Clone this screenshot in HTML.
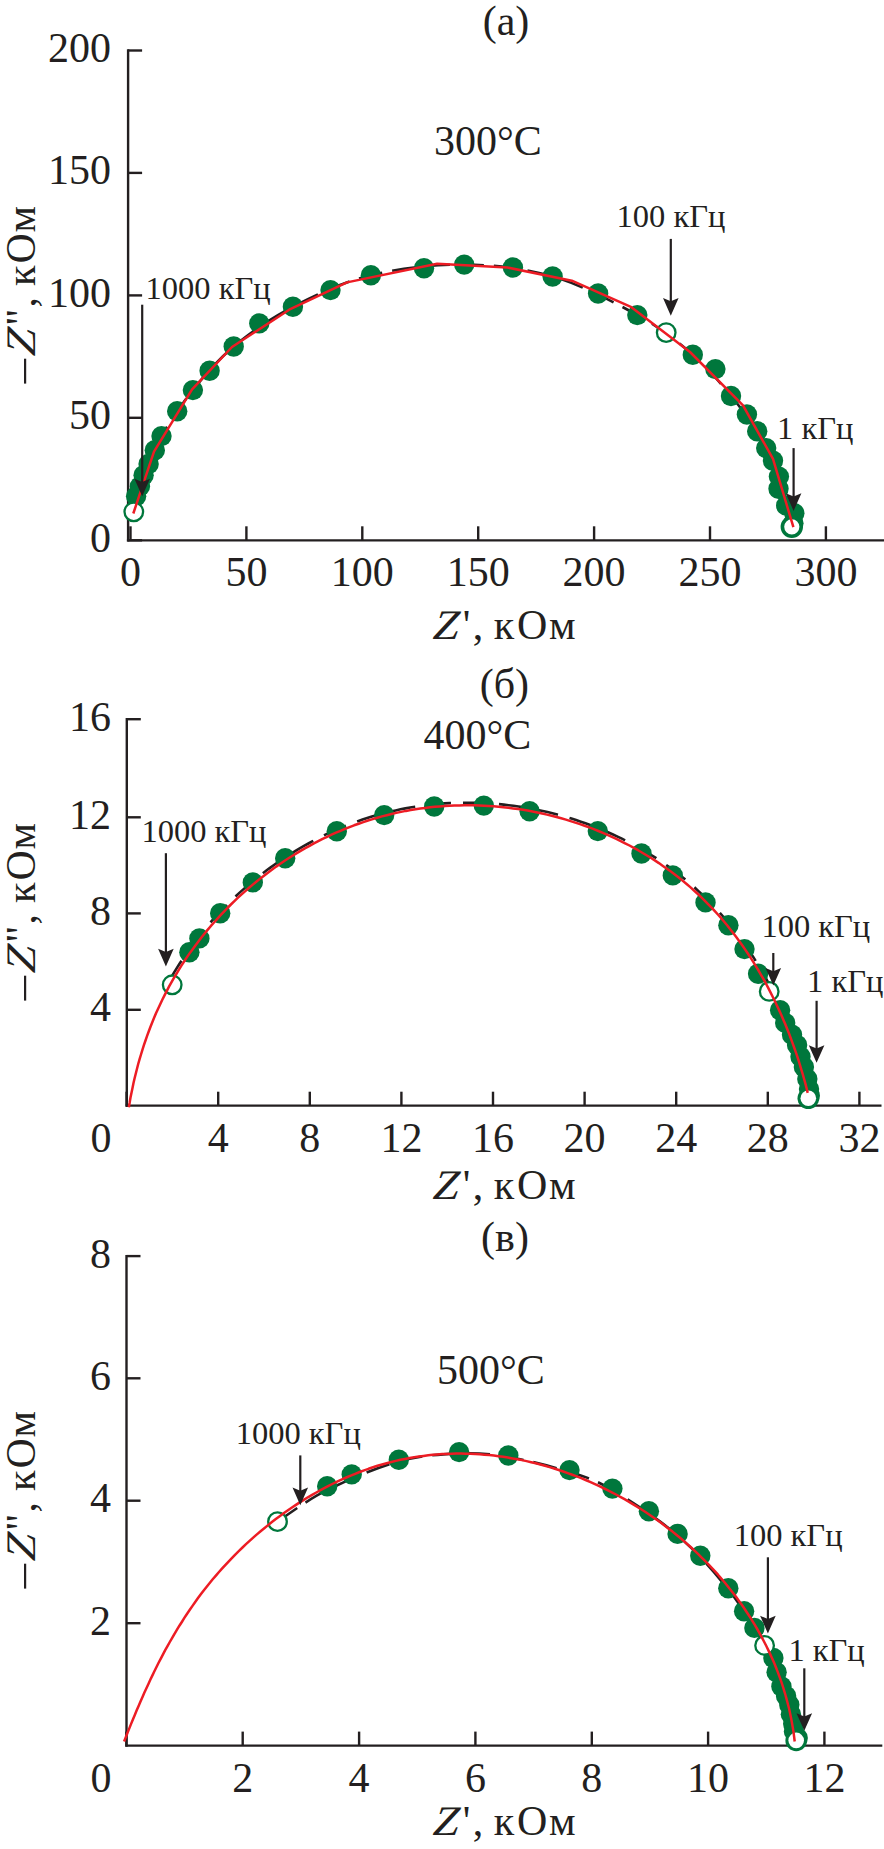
<!DOCTYPE html>
<html><head><meta charset="utf-8"><style>
html,body{margin:0;padding:0;background:#fff;overflow:hidden;width:884px;height:1849px;}
svg{display:block;}
text{font-family:"Liberation Serif", serif;fill:#231f20;}
</style></head><body>
<svg width="884" height="1849" viewBox="0 0 884 1849">
<rect width="884" height="1849" fill="#fff"/>
<line x1="128.1" y1="49.3" x2="128.1" y2="541.5" stroke="#231f20" stroke-width="2.4"/>
<line x1="128.1" y1="50.5" x2="142.1" y2="50.5" stroke="#231f20" stroke-width="2.4"/>
<line x1="128.1" y1="172.9" x2="142.1" y2="172.9" stroke="#231f20" stroke-width="2.4"/>
<line x1="128.1" y1="295.4" x2="142.1" y2="295.4" stroke="#231f20" stroke-width="2.4"/>
<line x1="128.1" y1="417.8" x2="142.1" y2="417.8" stroke="#231f20" stroke-width="2.4"/>
<line x1="128.1" y1="540.3" x2="142.1" y2="540.3" stroke="#231f20" stroke-width="2.4"/>
<line x1="126.9" y1="540.3" x2="884.0" y2="540.3" stroke="#231f20" stroke-width="2.2"/>
<line x1="130.5" y1="540.3" x2="130.5" y2="526.3" stroke="#231f20" stroke-width="2.4"/>
<line x1="246.4" y1="540.3" x2="246.4" y2="526.3" stroke="#231f20" stroke-width="2.4"/>
<line x1="362.3" y1="540.3" x2="362.3" y2="526.3" stroke="#231f20" stroke-width="2.4"/>
<line x1="478.2" y1="540.3" x2="478.2" y2="526.3" stroke="#231f20" stroke-width="2.4"/>
<line x1="594.1" y1="540.3" x2="594.1" y2="526.3" stroke="#231f20" stroke-width="2.4"/>
<line x1="710.0" y1="540.3" x2="710.0" y2="526.3" stroke="#231f20" stroke-width="2.4"/>
<line x1="825.9" y1="540.3" x2="825.9" y2="526.3" stroke="#231f20" stroke-width="2.4"/>
<text x="111.0" y="61.8" font-size="42" text-anchor="end" >200</text>
<text x="111.0" y="184.2" font-size="42" text-anchor="end" >150</text>
<text x="111.0" y="306.7" font-size="42" text-anchor="end" >100</text>
<text x="111.0" y="429.1" font-size="42" text-anchor="end" >50</text>
<text x="111.0" y="551.6" font-size="42" text-anchor="end" >0</text>
<text x="130.5" y="586.0" font-size="42" text-anchor="middle" >0</text>
<text x="246.4" y="586.0" font-size="42" text-anchor="middle" >50</text>
<text x="362.3" y="586.0" font-size="42" text-anchor="middle" >100</text>
<text x="478.2" y="586.0" font-size="42" text-anchor="middle" >150</text>
<text x="594.1" y="586.0" font-size="42" text-anchor="middle" >200</text>
<text x="710.0" y="586.0" font-size="42" text-anchor="middle" >250</text>
<text x="825.9" y="586.0" font-size="42" text-anchor="middle" >300</text>
<text x="506.0" y="35.0" font-size="42" text-anchor="middle" >(а)</text>
<text x="434.0" y="155.0" font-size="42" text-anchor="start" >300°C</text>
<rect x="24" y="358.7" width="2.2" height="24.9" fill="#231f20"/>
<text transform="translate(34.8,356.5) rotate(-90) skewX(-7) scale(1.15,1)" font-size="42" font-style="italic">Z</text>
<text transform="translate(34.8,325.7) rotate(-90)" font-size="42" font-style="normal">"</text>
<text transform="translate(34.8,307.4) rotate(-90)" font-size="42" font-style="normal">,</text>
<text transform="translate(34.8,286.0) rotate(-90)" font-size="42" font-style="normal">к</text>
<text transform="translate(34.8,263.4) rotate(-90)" font-size="42" font-style="normal">О</text>
<text transform="translate(34.8,232.5) rotate(-90)" font-size="42" font-style="normal">м</text>
<text transform="translate(432.3,638.5) skewX(-6) scale(1.1,1)" font-size="42" font-style="italic">Z</text>
<text x="462.8" y="638.5" font-size="42" font-style="normal">'</text>
<text x="472.8" y="638.5" font-size="42" font-style="normal">,</text>
<text x="493.7" y="638.5" font-size="42" font-style="normal">к</text>
<text x="517.1" y="638.5" font-size="42" font-style="normal">О</text>
<text x="548.9" y="638.5" font-size="42" font-style="normal">м</text>
<path d="M133.8,511.8 C135.4,505.7 139.0,487.8 143.6,475.2 C148.2,462.6 153.3,450.3 161.5,436.1 C169.7,421.9 180.9,405.0 192.9,390.1 C204.9,375.2 217.0,360.4 233.7,346.5 C250.4,332.6 270.0,318.6 292.9,306.7 C315.8,294.8 342.3,282.3 370.9,275.3 C399.4,268.3 433.9,264.4 464.2,264.6 C494.5,264.8 523.8,268.1 552.6,276.5 C581.5,284.9 613.9,302.1 637.3,315.1 C660.7,328.1 677.2,341.2 692.8,354.7 C708.4,368.2 720.3,383.2 731.0,396.0 C741.7,408.8 750.2,420.5 757.2,431.3 C764.2,442.1 768.7,450.9 773.0,460.7 C777.3,470.5 779.9,479.0 783.0,490.0 C786.1,501.0 790.3,520.7 791.8,526.8" fill="none" stroke="#231f20" stroke-width="2.6" stroke-dasharray="24 10"/>
<circle cx="136.1" cy="496.3" r="10.2" fill="#00773c"/>
<circle cx="139.9" cy="486.4" r="10.2" fill="#00773c"/>
<circle cx="143.6" cy="475.2" r="10.2" fill="#00773c"/>
<circle cx="148.6" cy="464.0" r="10.2" fill="#00773c"/>
<circle cx="154.8" cy="450.3" r="10.2" fill="#00773c"/>
<circle cx="161.5" cy="436.1" r="10.2" fill="#00773c"/>
<circle cx="177.2" cy="411.2" r="10.2" fill="#00773c"/>
<circle cx="192.9" cy="390.1" r="10.2" fill="#00773c"/>
<circle cx="209.6" cy="370.7" r="10.2" fill="#00773c"/>
<circle cx="233.7" cy="346.5" r="10.2" fill="#00773c"/>
<circle cx="259.3" cy="323.4" r="10.2" fill="#00773c"/>
<circle cx="292.9" cy="306.7" r="10.2" fill="#00773c"/>
<circle cx="330.5" cy="290.1" r="10.2" fill="#00773c"/>
<circle cx="370.9" cy="275.3" r="10.2" fill="#00773c"/>
<circle cx="424.0" cy="268.3" r="10.2" fill="#00773c"/>
<circle cx="464.2" cy="264.6" r="10.2" fill="#00773c"/>
<circle cx="512.9" cy="267.5" r="10.2" fill="#00773c"/>
<circle cx="552.6" cy="276.5" r="10.2" fill="#00773c"/>
<circle cx="598.1" cy="293.5" r="10.2" fill="#00773c"/>
<circle cx="637.3" cy="315.1" r="10.2" fill="#00773c"/>
<circle cx="692.8" cy="354.7" r="10.2" fill="#00773c"/>
<circle cx="715.4" cy="369.1" r="10.2" fill="#00773c"/>
<circle cx="731.0" cy="396.0" r="10.2" fill="#00773c"/>
<circle cx="746.9" cy="414.5" r="10.2" fill="#00773c"/>
<circle cx="757.2" cy="431.3" r="10.2" fill="#00773c"/>
<circle cx="766.2" cy="448.1" r="10.2" fill="#00773c"/>
<circle cx="773.0" cy="460.7" r="10.2" fill="#00773c"/>
<circle cx="778.9" cy="476.6" r="10.2" fill="#00773c"/>
<circle cx="778.5" cy="488.8" r="10.2" fill="#00773c"/>
<circle cx="786.2" cy="505.5" r="10.2" fill="#00773c"/>
<circle cx="794.3" cy="513.2" r="10.2" fill="#00773c"/>
<circle cx="793.4" cy="523.2" r="10.2" fill="#00773c"/>
<circle cx="133.8" cy="511.8" r="9.3" fill="#fff" stroke="#00773c" stroke-width="2.3"/>
<circle cx="666.2" cy="332.6" r="9.3" fill="#fff" stroke="#00773c" stroke-width="2.3"/>
<circle cx="791.8" cy="526.8" r="9.4" fill="#fff" stroke="#00773c" stroke-width="3.6"/>
<path d="M133.3,513.5 L154.0,451.7 L192.1,389.3 L232.0,347.0 L289.2,309.7 L347.0,282.4 L437.1,263.8 L507.3,267.5 L571.8,280.7 L631.4,307.2 L690.0,352.0 L743.0,405.3 L773.0,458.9 L793.4,527.2" fill="none" stroke="#ed1c24" stroke-width="2.5" stroke-linejoin="round"/>
<line x1="142.2" y1="304.7" x2="142.2" y2="484.3" stroke="#231f20" stroke-width="2.2"/>
<path d="M142.2,496.3 L134.4,478.7 L142.2,481.9 L150.0,478.7 Z" fill="#231f20"/>
<line x1="670.8" y1="238.9" x2="670.8" y2="303.7" stroke="#231f20" stroke-width="2.2"/>
<path d="M670.8,315.7 L663.0,298.1 L670.8,301.3 L678.6,298.1 Z" fill="#231f20"/>
<line x1="793.6" y1="448.1" x2="793.6" y2="498.9" stroke="#231f20" stroke-width="2.2"/>
<path d="M793.6,510.9 L785.8,493.3 L793.6,496.5 L801.4,493.3 Z" fill="#231f20"/>
<text x="145.6" y="298.5" font-size="32.5" text-anchor="start" >1000 кГц</text>
<text x="616.5" y="227.1" font-size="32.5" text-anchor="start" >100 кГц</text>
<text x="777.0" y="438.9" font-size="32.5" text-anchor="start" >1 кГц</text>
<line x1="126.8" y1="718.0" x2="126.8" y2="1106.9" stroke="#231f20" stroke-width="2.4"/>
<line x1="126.8" y1="719.2" x2="140.8" y2="719.2" stroke="#231f20" stroke-width="2.4"/>
<line x1="126.8" y1="817.3" x2="140.8" y2="817.3" stroke="#231f20" stroke-width="2.4"/>
<line x1="126.8" y1="913.4" x2="140.8" y2="913.4" stroke="#231f20" stroke-width="2.4"/>
<line x1="126.8" y1="1009.8" x2="140.8" y2="1009.8" stroke="#231f20" stroke-width="2.4"/>
<line x1="125.6" y1="1105.7" x2="881.5" y2="1105.7" stroke="#231f20" stroke-width="2.2"/>
<line x1="126.6" y1="1105.7" x2="126.6" y2="1091.7" stroke="#231f20" stroke-width="2.4"/>
<line x1="218.2" y1="1105.7" x2="218.2" y2="1091.7" stroke="#231f20" stroke-width="2.4"/>
<line x1="309.8" y1="1105.7" x2="309.8" y2="1091.7" stroke="#231f20" stroke-width="2.4"/>
<line x1="401.4" y1="1105.7" x2="401.4" y2="1091.7" stroke="#231f20" stroke-width="2.4"/>
<line x1="493.0" y1="1105.7" x2="493.0" y2="1091.7" stroke="#231f20" stroke-width="2.4"/>
<line x1="584.6" y1="1105.7" x2="584.6" y2="1091.7" stroke="#231f20" stroke-width="2.4"/>
<line x1="676.2" y1="1105.7" x2="676.2" y2="1091.7" stroke="#231f20" stroke-width="2.4"/>
<line x1="767.8" y1="1105.7" x2="767.8" y2="1091.7" stroke="#231f20" stroke-width="2.4"/>
<line x1="859.4" y1="1105.7" x2="859.4" y2="1091.7" stroke="#231f20" stroke-width="2.4"/>
<text x="111.0" y="730.7" font-size="42" text-anchor="end" >16</text>
<text x="111.0" y="828.8" font-size="42" text-anchor="end" >12</text>
<text x="111.0" y="924.9" font-size="42" text-anchor="end" >8</text>
<text x="111.0" y="1021.3" font-size="42" text-anchor="end" >4</text>
<text x="101.0" y="1152.0" font-size="42" text-anchor="middle" >0</text>
<text x="218.2" y="1151.5" font-size="42" text-anchor="middle" >4</text>
<text x="309.8" y="1151.5" font-size="42" text-anchor="middle" >8</text>
<text x="401.4" y="1151.5" font-size="42" text-anchor="middle" >12</text>
<text x="493.0" y="1151.5" font-size="42" text-anchor="middle" >16</text>
<text x="584.6" y="1151.5" font-size="42" text-anchor="middle" >20</text>
<text x="676.2" y="1151.5" font-size="42" text-anchor="middle" >24</text>
<text x="767.8" y="1151.5" font-size="42" text-anchor="middle" >28</text>
<text x="859.4" y="1151.5" font-size="42" text-anchor="middle" >32</text>
<text x="504.4" y="698.0" font-size="42" text-anchor="middle" >(б)</text>
<text x="423.5" y="748.7" font-size="42" text-anchor="start" >400°C</text>
<rect x="24" y="975.7" width="2.2" height="24.9" fill="#231f20"/>
<text transform="translate(34.8,973.5) rotate(-90) skewX(-7) scale(1.15,1)" font-size="42" font-style="italic">Z</text>
<text transform="translate(34.8,942.7) rotate(-90)" font-size="42" font-style="normal">"</text>
<text transform="translate(34.8,924.4) rotate(-90)" font-size="42" font-style="normal">,</text>
<text transform="translate(34.8,903.0) rotate(-90)" font-size="42" font-style="normal">к</text>
<text transform="translate(34.8,880.4) rotate(-90)" font-size="42" font-style="normal">О</text>
<text transform="translate(34.8,849.5) rotate(-90)" font-size="42" font-style="normal">м</text>
<text transform="translate(432.3,1199.3) skewX(-6) scale(1.1,1)" font-size="42" font-style="italic">Z</text>
<text x="462.8" y="1199.3" font-size="42" font-style="normal">'</text>
<text x="472.8" y="1199.3" font-size="42" font-style="normal">,</text>
<text x="493.7" y="1199.3" font-size="42" font-style="normal">к</text>
<text x="517.1" y="1199.3" font-size="42" font-style="normal">О</text>
<text x="548.9" y="1199.3" font-size="42" font-style="normal">м</text>
<path d="M169.1,981.2 L171.5,976.9 L174.0,972.6 L176.6,968.4 L179.2,964.2 L181.9,960.1 L184.7,956.0 L187.5,951.9 L190.4,947.9 L193.3,943.9 L196.3,939.9 L199.3,936.0 L202.4,932.1 L205.6,928.3 L208.8,924.5 L212.0,920.7 L215.3,917.0 L218.7,913.4 L222.1,909.8 L225.6,906.2 L229.1,902.7 L232.6,899.2 L236.3,895.8 L239.9,892.4 L243.6,889.1 L247.3,885.8 L251.1,882.6 L255.0,879.5 L258.8,876.4 L262.8,873.3 L266.7,870.3 L270.7,867.4 L274.7,864.5 L278.8,861.6 L282.9,858.9 L287.1,856.1 L291.3,853.5 L295.5,850.9 L299.7,848.3 L304.0,845.9 L308.4,843.5 L312.7,841.1 L317.1,838.8 L321.5,836.6 L326.0,834.4 L330.4,832.3 L335.0,830.3 L339.5,828.4 L344.0,826.5 L348.6,824.6 L353.2,822.9 L357.9,821.2 L362.5,819.6 L367.2,818.1 L371.9,816.6 L376.6,815.2 L381.4,813.9 L386.1,812.6 L390.9,811.5 L395.7,810.4 L400.5,809.3 L405.4,808.4 L410.2,807.5 L415.1,806.7 L420.0,806.0 L424.8,805.3 L429.7,804.7 L434.6,804.2 L439.5,803.8 L444.5,803.4 L449.4,803.1 L454.3,802.9 L459.3,802.8 L464.2,802.7 L469.1,802.7 L474.1,802.7 L479.0,802.9 L483.9,803.1 L488.9,803.4 L493.8,803.7 L498.7,804.1 L503.7,804.6 L508.6,805.2 L513.5,805.8 L518.4,806.5 L523.3,807.2 L528.2,808.1 L533.0,809.0 L537.9,809.9 L542.7,811.0 L547.5,812.1 L552.4,813.2 L557.2,814.5 L561.9,815.8 L566.7,817.1 L571.4,818.6 L576.1,820.1 L580.8,821.7 L585.5,823.3 L590.1,825.0 L594.8,826.8 L599.4,828.6 L603.9,830.5 L608.5,832.5 L613.0,834.5 L617.5,836.6 L621.9,838.7 L626.3,840.9 L630.7,843.2 L635.0,845.6 L639.4,848.0 L643.6,850.5 L647.9,853.0 L652.1,855.6 L656.2,858.2 L660.3,861.0 L664.4,863.7 L668.5,866.6 L672.4,869.5 L676.4,872.5 L680.3,875.5 L684.1,878.6 L687.9,881.7 L691.7,884.9 L695.4,888.2 L699.0,891.6 L702.6,894.9 L706.2,898.4 L709.7,901.9 L713.1,905.5 L716.5,909.1 L719.8,912.8 L723.1,916.5 L726.3,920.3 L729.5,924.1 L732.6,928.0 L735.6,931.9 L738.6,935.9 L741.6,939.9 L744.5,944.0 L747.3,948.1 L750.1,952.2 L752.9,956.4 L755.5,960.6 L758.2,964.9 L760.7,969.2 L763.3,973.5 L765.7,977.9 L768.1,982.3 L770.5,986.7 L772.8,991.1 L775.1,995.6 L777.3,1000.1 L779.4,1004.6 L781.5,1009.1 L783.6,1013.7 L785.5,1018.2 L787.5,1022.8 L789.4,1027.4 L791.2,1032.0 L793.0,1036.6 L794.7,1041.3 L796.4,1045.9 L798.0,1050.6 L799.6,1055.2 L801.1,1059.9 L802.6,1064.5 L804.0,1069.2 L805.3,1073.9 L806.7,1078.5 L807.9,1083.2 L809.1,1087.8 L810.3,1092.5" fill="none" stroke="#231f20" stroke-width="2.6" stroke-dasharray="24 12"/>
<circle cx="189.4" cy="952.3" r="10.2" fill="#00773c"/>
<circle cx="199.4" cy="938.4" r="10.2" fill="#00773c"/>
<circle cx="220.2" cy="913.3" r="10.2" fill="#00773c"/>
<circle cx="252.8" cy="882.4" r="10.2" fill="#00773c"/>
<circle cx="285.2" cy="858.3" r="10.2" fill="#00773c"/>
<circle cx="336.8" cy="831.2" r="10.2" fill="#00773c"/>
<circle cx="384.2" cy="815.1" r="10.2" fill="#00773c"/>
<circle cx="434.2" cy="806.5" r="10.2" fill="#00773c"/>
<circle cx="483.8" cy="805.6" r="10.2" fill="#00773c"/>
<circle cx="529.6" cy="811.2" r="10.2" fill="#00773c"/>
<circle cx="597.8" cy="831.1" r="10.2" fill="#00773c"/>
<circle cx="641.5" cy="853.5" r="10.2" fill="#00773c"/>
<circle cx="672.8" cy="875.4" r="10.2" fill="#00773c"/>
<circle cx="705.5" cy="902.4" r="10.2" fill="#00773c"/>
<circle cx="728.4" cy="925.3" r="10.2" fill="#00773c"/>
<circle cx="744.5" cy="949.1" r="10.2" fill="#00773c"/>
<circle cx="758.1" cy="973.7" r="10.2" fill="#00773c"/>
<circle cx="780.1" cy="1010.2" r="10.2" fill="#00773c"/>
<circle cx="785.2" cy="1022.9" r="10.2" fill="#00773c"/>
<circle cx="792.0" cy="1034.8" r="10.2" fill="#00773c"/>
<circle cx="797.1" cy="1045.0" r="10.2" fill="#00773c"/>
<circle cx="800.5" cy="1056.8" r="10.2" fill="#00773c"/>
<circle cx="803.9" cy="1067.0" r="10.2" fill="#00773c"/>
<circle cx="807.3" cy="1078.9" r="10.2" fill="#00773c"/>
<circle cx="809.0" cy="1089.1" r="10.2" fill="#00773c"/>
<circle cx="172.2" cy="984.8" r="9.3" fill="#fff" stroke="#00773c" stroke-width="2.3"/>
<circle cx="769.2" cy="991.4" r="9.3" fill="#fff" stroke="#00773c" stroke-width="2.3"/>
<circle cx="809.8" cy="1095.8" r="10.2" fill="#00773c"/>
<circle cx="808.3" cy="1098.3" r="10.8" fill="#00773c"/>
<circle cx="808.3" cy="1098.3" r="7.8" fill="#fff"/>
<path d="M128.8,1107.2 L129.7,1102.4 L130.5,1097.5 L131.5,1092.7 L132.5,1087.9 L133.5,1083.0 L134.6,1078.3 L135.8,1073.5 L137.0,1068.7 L138.2,1064.0 L139.6,1059.2 L141.0,1054.5 L142.4,1049.8 L143.9,1045.2 L145.5,1040.5 L147.1,1035.9 L148.8,1031.3 L150.5,1026.7 L152.3,1022.2 L154.2,1017.6 L156.1,1013.1 L158.1,1008.7 L160.2,1004.2 L162.3,999.8 L164.5,995.4 L166.7,991.1 L169.0,986.7 L171.4,982.4 L173.8,978.2 L176.3,974.0 L178.8,969.8 L181.4,965.6 L184.1,961.5 L186.8,957.4 L189.6,953.4 L192.5,949.4 L195.4,945.4 L198.4,941.5 L201.4,937.6 L204.4,933.7 L207.6,929.9 L210.7,926.2 L214.0,922.5 L217.3,918.8 L220.6,915.2 L224.0,911.6 L227.4,908.0 L230.9,904.5 L234.4,901.1 L238.0,897.7 L241.6,894.4 L245.3,891.1 L249.0,887.8 L252.8,884.6 L256.6,881.5 L260.4,878.4 L264.3,875.4 L268.2,872.4 L272.2,869.5 L276.2,866.6 L280.3,863.8 L284.3,861.0 L288.5,858.3 L292.6,855.7 L296.8,853.1 L301.0,850.6 L305.3,848.1 L309.6,845.8 L313.9,843.4 L318.3,841.1 L322.6,838.9 L327.1,836.8 L331.5,834.7 L336.0,832.7 L340.5,830.8 L345.0,828.9 L349.5,827.1 L354.1,825.3 L358.7,823.7 L363.3,822.1 L368.0,820.5 L372.7,819.1 L377.3,817.7 L382.0,816.4 L386.8,815.2 L391.5,814.0 L396.3,812.9 L401.1,811.9 L405.9,810.9 L410.7,810.1 L415.5,809.3 L420.3,808.6 L425.2,807.9 L430.0,807.3 L434.9,806.8 L439.8,806.4 L444.7,806.0 L449.5,805.7 L454.4,805.5 L459.3,805.4 L464.2,805.3 L469.1,805.3 L474.0,805.3 L478.9,805.5 L483.8,805.7 L488.7,806.0 L493.6,806.3 L498.5,806.7 L503.4,807.2 L508.3,807.7 L513.1,808.4 L518.0,809.1 L522.9,809.8 L527.7,810.6 L532.5,811.5 L537.4,812.5 L542.2,813.5 L547.0,814.6 L551.7,815.8 L556.5,817.0 L561.2,818.3 L565.9,819.6 L570.6,821.1 L575.3,822.6 L580.0,824.1 L584.6,825.7 L589.2,827.4 L593.8,829.2 L598.4,831.0 L602.9,832.9 L607.4,834.8 L611.9,836.8 L616.3,838.9 L620.7,841.1 L625.1,843.3 L629.5,845.5 L633.8,847.8 L638.1,850.2 L642.3,852.7 L646.5,855.2 L650.7,857.8 L654.8,860.4 L658.9,863.1 L662.9,865.9 L666.9,868.7 L670.9,871.6 L674.8,874.5 L678.7,877.5 L682.5,880.6 L686.3,883.7 L690.0,886.9 L693.7,890.2 L697.3,893.5 L700.9,896.8 L704.4,900.3 L707.8,903.8 L711.3,907.3 L714.6,910.9 L717.9,914.5 L721.2,918.2 L724.4,922.0 L727.5,925.8 L730.6,929.7 L733.6,933.6 L736.6,937.5 L739.5,941.5 L742.4,945.5 L745.2,949.6 L748.0,953.7 L750.7,957.9 L753.4,962.1 L756.0,966.3 L758.5,970.5 L761.0,974.8 L763.5,979.2 L765.9,983.5 L768.2,987.9 L770.5,992.3 L772.7,996.7 L774.9,1001.2 L777.0,1005.7 L779.1,1010.1 L781.2,1014.7 L783.1,1019.2 L785.1,1023.7 L786.9,1028.3 L788.8,1032.9 L790.5,1037.5 L792.2,1042.1 L793.9,1046.7 L795.5,1051.3 L797.1,1055.9 L798.6,1060.5 L800.0,1065.2 L801.4,1069.8 L802.8,1074.4 L804.1,1079.0 L805.4,1083.7 L806.6,1088.3 L807.7,1092.9" fill="none" stroke="#ed1c24" stroke-width="2.5" stroke-linejoin="round"/>
<line x1="165.9" y1="853.2" x2="165.9" y2="954.4" stroke="#231f20" stroke-width="2.2"/>
<path d="M165.9,966.4 L158.1,948.8 L165.9,952.0 L173.7,948.8 Z" fill="#231f20"/>
<line x1="773.3" y1="953.0" x2="773.3" y2="973.6" stroke="#231f20" stroke-width="2.2"/>
<path d="M773.3,985.6 L765.5,968.0 L773.3,971.2 L781.1,968.0 Z" fill="#231f20"/>
<line x1="816.6" y1="1000.8" x2="816.6" y2="1050.8" stroke="#231f20" stroke-width="2.2"/>
<path d="M816.6,1062.8 L808.8,1045.2 L816.6,1048.4 L824.4,1045.2 Z" fill="#231f20"/>
<text x="141.4" y="841.9" font-size="32.5" text-anchor="start" >1000 кГц</text>
<text x="761.4" y="936.7" font-size="32.5" text-anchor="start" >100 кГц</text>
<text x="807.0" y="992.0" font-size="32.5" text-anchor="start" >1 кГц</text>
<line x1="126.5" y1="1254.9" x2="126.5" y2="1746.8" stroke="#231f20" stroke-width="2.4"/>
<line x1="126.5" y1="1256.1" x2="140.5" y2="1256.1" stroke="#231f20" stroke-width="2.4"/>
<line x1="126.5" y1="1378.3" x2="140.5" y2="1378.3" stroke="#231f20" stroke-width="2.4"/>
<line x1="126.5" y1="1500.7" x2="140.5" y2="1500.7" stroke="#231f20" stroke-width="2.4"/>
<line x1="126.5" y1="1623.2" x2="140.5" y2="1623.2" stroke="#231f20" stroke-width="2.4"/>
<line x1="125.3" y1="1745.6" x2="882.3" y2="1745.6" stroke="#231f20" stroke-width="2.2"/>
<line x1="126.4" y1="1745.6" x2="126.4" y2="1731.6" stroke="#231f20" stroke-width="2.4"/>
<line x1="242.7" y1="1745.6" x2="242.7" y2="1731.6" stroke="#231f20" stroke-width="2.4"/>
<line x1="359.1" y1="1745.6" x2="359.1" y2="1731.6" stroke="#231f20" stroke-width="2.4"/>
<line x1="475.4" y1="1745.6" x2="475.4" y2="1731.6" stroke="#231f20" stroke-width="2.4"/>
<line x1="591.8" y1="1745.6" x2="591.8" y2="1731.6" stroke="#231f20" stroke-width="2.4"/>
<line x1="708.1" y1="1745.6" x2="708.1" y2="1731.6" stroke="#231f20" stroke-width="2.4"/>
<line x1="824.4" y1="1745.6" x2="824.4" y2="1731.6" stroke="#231f20" stroke-width="2.4"/>
<text x="111.0" y="1267.8" font-size="42" text-anchor="end" >8</text>
<text x="111.0" y="1390.0" font-size="42" text-anchor="end" >6</text>
<text x="111.0" y="1512.4" font-size="42" text-anchor="end" >4</text>
<text x="111.0" y="1634.9" font-size="42" text-anchor="end" >2</text>
<text x="101.0" y="1792.0" font-size="42" text-anchor="middle" >0</text>
<text x="242.7" y="1792.0" font-size="42" text-anchor="middle" >2</text>
<text x="359.1" y="1792.0" font-size="42" text-anchor="middle" >4</text>
<text x="475.4" y="1792.0" font-size="42" text-anchor="middle" >6</text>
<text x="591.8" y="1792.0" font-size="42" text-anchor="middle" >8</text>
<text x="708.1" y="1792.0" font-size="42" text-anchor="middle" >10</text>
<text x="824.4" y="1792.0" font-size="42" text-anchor="middle" >12</text>
<text x="505.0" y="1251.0" font-size="42" text-anchor="middle" >(в)</text>
<text x="437.0" y="1384.2" font-size="42" text-anchor="start" >500°C</text>
<rect x="24" y="1563.7" width="2.2" height="24.9" fill="#231f20"/>
<text transform="translate(34.8,1561.5) rotate(-90) skewX(-7) scale(1.15,1)" font-size="42" font-style="italic">Z</text>
<text transform="translate(34.8,1530.7) rotate(-90)" font-size="42" font-style="normal">"</text>
<text transform="translate(34.8,1512.4) rotate(-90)" font-size="42" font-style="normal">,</text>
<text transform="translate(34.8,1491.0) rotate(-90)" font-size="42" font-style="normal">к</text>
<text transform="translate(34.8,1468.4) rotate(-90)" font-size="42" font-style="normal">О</text>
<text transform="translate(34.8,1437.5) rotate(-90)" font-size="42" font-style="normal">м</text>
<text transform="translate(432.3,1835.1) skewX(-6) scale(1.1,1)" font-size="42" font-style="italic">Z</text>
<text x="462.8" y="1835.1" font-size="42" font-style="normal">'</text>
<text x="472.8" y="1835.1" font-size="42" font-style="normal">,</text>
<text x="493.7" y="1835.1" font-size="42" font-style="normal">к</text>
<text x="517.1" y="1835.1" font-size="42" font-style="normal">О</text>
<text x="548.9" y="1835.1" font-size="42" font-style="normal">м</text>
<path d="M277.5,1521.6 C285.8,1516.3 307.0,1500.0 327.2,1490.0 C347.4,1480.0 376.8,1467.6 398.8,1461.5 C420.8,1455.4 440.9,1454.2 459.1,1453.5 C477.4,1452.8 489.9,1453.9 508.3,1457.0 C526.7,1460.1 552.1,1466.5 569.5,1472.0 C586.9,1477.5 594.4,1479.4 612.4,1490.0 C630.4,1500.6 658.3,1518.9 677.6,1535.5 C696.9,1552.1 713.8,1571.2 728.3,1589.5 C742.8,1607.8 755.8,1629.2 764.6,1645.4 C773.5,1661.7 776.1,1671.2 781.4,1687.0 C786.7,1702.8 793.7,1731.5 796.2,1740.4" fill="none" stroke="#231f20" stroke-width="2.6" stroke-dasharray="24 10"/>
<circle cx="327.2" cy="1486.2" r="10.2" fill="#00773c"/>
<circle cx="351.7" cy="1474.4" r="10.2" fill="#00773c"/>
<circle cx="398.8" cy="1459.7" r="10.2" fill="#00773c"/>
<circle cx="459.1" cy="1452.1" r="10.2" fill="#00773c"/>
<circle cx="508.3" cy="1455.5" r="10.2" fill="#00773c"/>
<circle cx="569.5" cy="1470.1" r="10.2" fill="#00773c"/>
<circle cx="612.4" cy="1488.6" r="10.2" fill="#00773c"/>
<circle cx="648.9" cy="1511.3" r="10.2" fill="#00773c"/>
<circle cx="677.6" cy="1533.9" r="10.2" fill="#00773c"/>
<circle cx="700.3" cy="1555.8" r="10.2" fill="#00773c"/>
<circle cx="728.3" cy="1588.3" r="10.2" fill="#00773c"/>
<circle cx="744.1" cy="1611.3" r="10.2" fill="#00773c"/>
<circle cx="754.4" cy="1627.9" r="10.2" fill="#00773c"/>
<circle cx="773.4" cy="1658.0" r="10.2" fill="#00773c"/>
<circle cx="776.6" cy="1672.2" r="10.2" fill="#00773c"/>
<circle cx="781.4" cy="1686.5" r="10.2" fill="#00773c"/>
<circle cx="786.1" cy="1696.0" r="10.2" fill="#00773c"/>
<circle cx="789.3" cy="1704.7" r="10.2" fill="#00773c"/>
<circle cx="790.9" cy="1714.2" r="10.2" fill="#00773c"/>
<circle cx="793.2" cy="1723.7" r="10.2" fill="#00773c"/>
<circle cx="794.0" cy="1731.6" r="10.2" fill="#00773c"/>
<circle cx="277.5" cy="1521.6" r="9.3" fill="#fff" stroke="#00773c" stroke-width="2.3"/>
<circle cx="764.6" cy="1645.4" r="9.3" fill="#fff" stroke="#00773c" stroke-width="2.3"/>
<circle cx="797.7" cy="1737.9" r="10.2" fill="#00773c"/>
<circle cx="796.2" cy="1740.4" r="10.8" fill="#00773c"/>
<circle cx="796.2" cy="1740.4" r="7.8" fill="#fff"/>
<path d="M124.1,1741.5 L125.9,1737.0 L127.6,1732.5 L129.4,1728.1 L131.2,1723.6 L133.0,1719.2 L134.9,1714.7 L136.7,1710.3 L138.6,1705.9 L140.5,1701.5 L142.4,1697.2 L144.3,1692.8 L146.3,1688.5 L148.3,1684.2 L150.3,1679.8 L152.3,1675.6 L154.4,1671.3 L156.5,1667.0 L158.6,1662.8 L160.8,1658.6 L163.0,1654.4 L165.2,1650.2 L167.5,1646.1 L169.8,1642.0 L172.2,1637.9 L174.5,1633.8 L177.0,1629.7 L179.4,1625.7 L182.0,1621.7 L184.5,1617.7 L187.1,1613.7 L189.8,1609.8 L192.5,1605.9 L195.2,1602.0 L198.0,1598.1 L200.8,1594.3 L203.7,1590.5 L206.7,1586.7 L209.7,1583.0 L212.7,1579.3 L215.9,1575.6 L219.0,1572.0 L222.2,1568.4 L225.5,1564.8 L228.8,1561.3 L232.1,1557.8 L235.5,1554.3 L239.0,1550.9 L242.5,1547.5 L246.0,1544.2 L249.6,1540.9 L253.2,1537.6 L256.9,1534.4 L260.6,1531.3 L264.3,1528.2 L268.1,1525.1 L271.9,1522.1 L275.8,1519.1 L279.7,1516.2 L283.6,1513.3 L287.6,1510.5 L291.6,1507.8 L295.6,1505.1 L299.7,1502.4 L303.8,1499.9 L307.9,1497.3 L312.1,1494.9 L316.3,1492.5 L320.5,1490.1 L324.7,1487.9 L329.0,1485.6 L333.3,1483.5 L337.6,1481.4 L342.0,1479.4 L346.3,1477.5 L350.7,1475.6 L355.2,1473.8 L359.6,1472.0 L364.1,1470.4 L368.5,1468.8 L373.0,1467.3 L377.5,1465.8 L382.1,1464.5 L386.6,1463.2 L391.2,1462.0 L395.8,1460.9 L400.4,1459.8 L405.0,1458.9 L409.6,1458.0 L414.2,1457.2 L418.9,1456.5 L423.5,1455.9 L428.2,1455.3 L432.8,1454.8 L437.5,1454.4 L442.2,1454.1 L446.9,1453.9 L451.6,1453.7 L456.3,1453.6 L461.0,1453.6 L465.7,1453.7 L470.4,1453.8 L475.1,1454.0 L479.8,1454.3 L484.5,1454.7 L489.2,1455.1 L493.9,1455.6 L498.5,1456.2 L503.2,1456.8 L507.9,1457.6 L512.6,1458.4 L517.2,1459.2 L521.9,1460.1 L526.5,1461.1 L531.2,1462.2 L535.8,1463.3 L540.4,1464.5 L545.0,1465.8 L549.6,1467.1 L554.1,1468.5 L558.7,1470.0 L563.2,1471.5 L567.7,1473.1 L572.2,1474.7 L576.7,1476.4 L581.2,1478.2 L585.6,1480.0 L590.0,1481.9 L594.4,1483.9 L598.8,1485.9 L603.2,1488.0 L607.5,1490.1 L611.8,1492.3 L616.0,1494.5 L620.3,1496.8 L624.5,1499.2 L628.7,1501.6 L632.8,1504.1 L637.0,1506.6 L641.1,1509.2 L645.1,1511.8 L649.1,1514.5 L653.1,1517.2 L657.1,1520.0 L661.0,1522.8 L664.9,1525.7 L668.7,1528.7 L672.5,1531.6 L676.3,1534.7 L680.0,1537.8 L683.7,1540.9 L687.3,1544.1 L690.9,1547.3 L694.5,1550.6 L698.0,1553.9 L701.4,1557.3 L704.8,1560.7 L708.2,1564.1 L711.5,1567.6 L714.8,1571.1 L718.0,1574.7 L721.1,1578.4 L724.3,1582.0 L727.3,1585.7 L730.3,1589.5 L733.3,1593.2 L736.2,1597.1 L739.0,1600.9 L741.8,1604.8 L744.5,1608.8 L747.1,1612.7 L749.8,1616.7 L752.3,1620.8 L754.8,1624.9 L757.2,1629.0 L759.5,1633.1 L761.8,1637.3 L764.0,1641.5 L766.2,1645.8 L768.3,1650.1 L770.3,1654.4 L772.3,1658.7 L774.2,1663.1 L776.0,1667.5 L777.7,1671.9 L779.4,1676.4 L781.0,1680.9 L782.5,1685.4 L783.9,1689.9 L785.3,1694.5 L786.6,1699.1 L787.8,1703.7 L789.0,1708.3 L790.0,1713.0 L791.0,1717.7 L791.9,1722.4 L792.7,1727.1 L793.5,1731.9 L794.1,1736.7 L794.7,1741.5" fill="none" stroke="#ed1c24" stroke-width="2.5" stroke-linejoin="round"/>
<line x1="300.3" y1="1455.4" x2="300.3" y2="1493.2" stroke="#231f20" stroke-width="2.2"/>
<path d="M300.3,1505.2 L292.5,1487.6 L300.3,1490.8 L308.1,1487.6 Z" fill="#231f20"/>
<line x1="767.9" y1="1557.3" x2="767.9" y2="1621.4" stroke="#231f20" stroke-width="2.2"/>
<path d="M767.9,1633.4 L760.1,1615.8 L767.9,1619.0 L775.7,1615.8 Z" fill="#231f20"/>
<line x1="804.3" y1="1668.3" x2="804.3" y2="1718.8" stroke="#231f20" stroke-width="2.2"/>
<path d="M804.3,1730.8 L796.5,1713.2 L804.3,1716.4 L812.1,1713.2 Z" fill="#231f20"/>
<text x="235.7" y="1444.1" font-size="32.5" text-anchor="start" >1000 кГц</text>
<text x="733.7" y="1545.6" font-size="32.5" text-anchor="start" >100 кГц</text>
<text x="788.4" y="1660.5" font-size="32.5" text-anchor="start" >1 кГц</text>
</svg></body></html>
